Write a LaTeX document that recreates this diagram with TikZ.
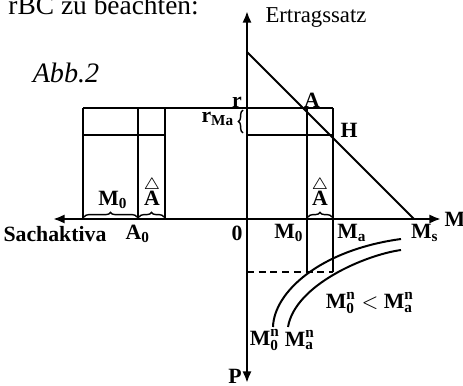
\documentclass[tikz,border=0pt]{standalone}
\usepackage{amsmath}
\usepackage{fontspec}
\setmainfont{Liberation Serif}
\usepackage{tikz}
\usetikzlibrary{arrows.meta,decorations.pathreplacing}
\newcommand{\sub}[2]{\textbf{#1}$_{\textbf{#2}}$}
\newcommand{\Mn}[1]{\textbf{M}$^{\textbf{n}}_{\textbf{#1}}$}
\newcommand{\hatA}{{\fontsize{7}{7}\selectfont$\triangle$}\\[-3pt]\textbf{A}}
\tikzset{
  every node/.style={inner sep=0pt},
  % axes with filled tips, plain lines, braces
  ax/.style={{Latex[length=5pt,width=4pt]}-{Latex[length=5pt,width=4pt]}, line width=1pt},
  ln/.style={line width=0.85pt},
  dln/.style={ln, dash pattern=on 3pt off 2pt},
  brc/.style={decorate, decoration={brace, amplitude=2pt}, line width=0.6pt},
  lab/.style={font=\fontsize{9.3}{10}\selectfont\bfseries, align=center},
  ttl/.style={font=\fontsize{9.7}{11}\selectfont},
  abb/.style={font=\fontsize{12}{14}\selectfont\itshape},
  head/.style={font=\fontsize{11.7}{14}\selectfont},
}
\begin{document}
\begin{tikzpicture}[x=0.015cm,y=-0.015cm]
  \useasboundingbox (0,0) rectangle (463,386);
  % ---- axes ----
  \coordinate (xl) at (53,219);
  \coordinate (xr) at (441,219);
  \coordinate (yt) at (247,11);
  \coordinate (yb) at (247,383);
  \draw[ax] (xl) -- (xr);
  \draw[ax] (yt) -- (yb);

  % ---- yield line ----
  \coordinate (Y)  at (247,52);
  \coordinate (Ms) at (414,219);
  \draw[ln] (Y) -- (Ms);

  % ---- rate level r and r_Ma ----
  \coordinate (rl) at (83,108);
  \coordinate (rr) at (333,108);
  \coordinate (ml) at (83,135);
  \coordinate (mm) at (165,135);
  \coordinate (m0) at (247,135);
  \coordinate (H)  at (333,135);
  \draw[ln] (rl) -- (rr);
  \draw[ln] (ml) -- (mm);
  \draw[ln] (m0) -- (H);

  % ---- left block ----
  \coordinate (p1) at (83,108);   \coordinate (q1) at (83,219);
  \coordinate (p2) at (138,108);  \coordinate (q2) at (138,219);
  \coordinate (p3) at (165,108);  \coordinate (q3) at (165,219);
  \draw[ln] (p1) -- (q1);
  \draw[ln] (p2) -- (q2);
  \draw[ln] (p3) -- (q3);

  % ---- right block, down to the curves ----
  \coordinate (p4) at (307,108);  \coordinate (q4) at (307,272);
  \coordinate (p5) at (333,108);  \coordinate (q5) at (333,272);
  \coordinate (d0) at (247,272);
  \draw[ln] (p4) -- (q4);
  \draw[ln] (p5) -- (q5);
  \draw[dln] (d0) -- (q5);

  % ---- curves M0^n and Ma^n ----
  \coordinate (c0s) at (273,327);  \coordinate (c0e) at (401,239);
  \coordinate (cas) at (288,327);  \coordinate (cae) at (401,250);
  \draw[ln] (c0s) .. controls (274,292) and (320,250) .. (c0e);
  \draw[ln] (cas) .. controls (295,285) and (365,255) .. (cae);

  % ---- braces ----
  \coordinate (b1s) at (84,217);   \coordinate (b1e) at (137,217);
  \coordinate (b2s) at (139,217);  \coordinate (b2e) at (164,217);
  \coordinate (b3s) at (308,217);  \coordinate (b3e) at (332,217);
  \coordinate (b4s) at (243,133);  \coordinate (b4e) at (243,110);
  \draw[brc] (b1s) -- (b1e);
  \draw[brc] (b2s) -- (b2e);
  \draw[brc] (b3s) -- (b3e);
  \draw[brc] (b4s) -- (b4e);

  % ---- labels ----
  \node[head, anchor=base west] (lHead) at (8,14) {rBC zu beachten:};
  \node[abb]  (lAbb)  at (66,73)   {Abb.2};
  \node[ttl]  (lErt)  at (316,18)  {Ertragssatz};
  \node[lab]  (lSach) at (55,234)  {Sachaktiva};
  \node[lab]  (lA0)   at (138,234) {\sub{A}{0}};
  \node[lab]  (lZero) at (237,233) {0};
  \node[lab]  (lM0r)  at (289,233) {\sub{M}{0}};
  \node[lab]  (lMa)   at (352,233) {\sub{M}{a}};
  \node[lab]  (lMs)   at (425,233) {\sub{M}{s}};
  \node[lab]  (lM)    at (455,219) {M};
  \node[lab]  (lM0l)  at (113,200) {\sub{M}{0}};
  \node[lab]  (lhAl)  at (152,192) {\hatA};
  \node[lab]  (lhAr)  at (320,192) {\hatA};
  \node[lab]  (lr)    at (237,102) {r};
  \node[lab]  (lrMa)  at (218,119) {\sub{r}{Ma}};
  \node[lab]  (lA)    at (312,100) {A};
  \node[lab]  (lH)    at (349,130) {H};
  \node[lab]  (lP)    at (235,376) {P};
  \node[lab]  (lM0n)  at (265,340) {\Mn{0}};
  \node[lab]  (lMan)  at (300,340) {\Mn{a}};
  \node[lab]  (lcmp)  at (370,303) {\Mn{0} $<$ \Mn{a}};
\end{tikzpicture}
\end{document}
